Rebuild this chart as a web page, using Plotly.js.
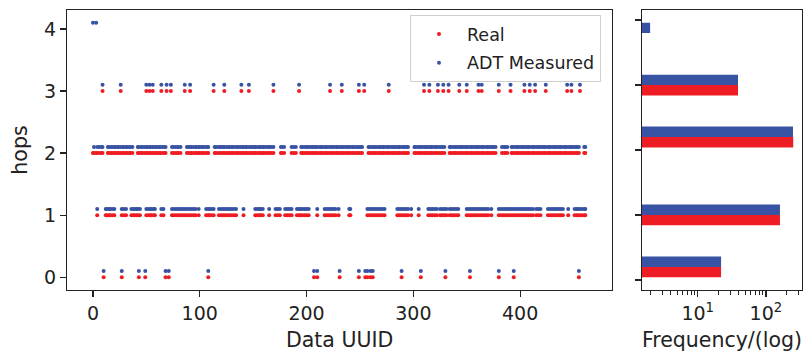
<!DOCTYPE html>
<html>
<head>
<meta charset="utf-8">
<script src="https://cdn.plot.ly/plotly-3.0.1.min.js"></script>
<style>html,body{margin:0;padding:0;background:#fff;}#chart{width:806px;height:360px;}</style>
</head>
<body>
<div id="chart"></div>
<script>
// ---- data ----
const seriesNames = ["Real", "ADT Measured"];
const hopLevels = [0, 1, 2, 3, 4];
const hop0X = [10, 27, 43, 49, 68, 71, 108, 207, 210, 231, 249, 255, 257, 260, 262, 289, 307, 330, 353, 380, 394, 455];
const hop1X = [4, 12, 13, 15, 16, 18, 20, 27, 29, 31, 36, 38, 39, 41, 42, 44, 50, 52, 54, 55, 57, 58, 64, 66,
  74, 76, 78, 80, 82, 84, 86, 88, 90, 92, 94, 96, 99, 106, 108, 109, 111, 113,
  118, 120, 122, 124, 126, 128, 130, 132, 134, 141, 152, 154, 156, 157, 159, 165, 171, 173, 175,
  180, 182, 184, 186, 191, 193, 194, 196, 198, 200, 202, 210, 217, 219, 221, 223, 225, 227, 230, 240, 241,
  257, 259, 261, 263, 265, 267, 269, 271, 273, 285, 287, 289, 291, 293, 295, 298, 305,
  314, 316, 318, 320, 322, 325, 327, 329, 331, 334, 336, 338, 340, 342,
  350, 352, 354, 356, 358, 360, 362, 364, 366, 368, 370, 373,
  380, 382, 384, 386, 388, 390, 392, 394, 396, 398, 400, 402, 404, 406, 408, 410, 412, 415, 417, 419,
  426, 428, 430, 432, 434, 436, 438, 440, 445, 451, 453, 454, 456, 458, 460, 461];
const hop2X = [0, 1, 3, 4, 6, 8, 9, 14, 15, 17, 18, 20, 21, 23, 24, 26, 28, 29, 31, 32, 34, 35, 37,
  42, 43, 45, 46, 48, 50, 51, 53, 54, 56, 57, 59, 60, 62, 63, 65, 67, 68,
  74, 75, 77, 79, 80, 82, 88, 89, 91, 92, 94, 96, 97, 99, 100, 102, 103, 105, 107, 108,
  114, 115, 117, 119, 120, 122, 123, 125, 127, 128, 130, 131, 133, 135, 136, 138, 140, 141, 143, 144, 146, 148, 149,
  151, 152, 154, 156, 157, 159, 160, 162, 164, 165, 167, 169, 176, 177, 179, 186, 188, 190,
  195, 196, 198, 200, 201, 203, 205, 206, 208, 209, 211, 213, 214, 216, 218, 219, 221, 223, 224, 226, 228, 229,
  231, 233, 234, 236, 238, 239, 241, 243, 244, 246, 248, 249, 251, 252,
  258, 259, 261, 263, 264, 266, 268, 269, 271, 272, 274, 276, 277, 279, 281, 282, 284, 286, 287, 289, 291, 292, 294, 295,
  301, 302, 304, 306, 307, 309, 311, 312, 314, 316, 317, 319, 321, 322, 324, 326, 327, 329,
  334, 335, 337, 339, 340, 342, 344, 345, 347, 349, 350, 352, 354, 355, 357, 359, 360, 362, 364, 365, 367, 369, 370, 372, 374, 375, 377,
  383, 385, 386, 388, 392, 393, 395, 397, 398, 400, 402, 403, 405, 407, 408, 410, 412, 413, 415, 417, 418, 420,
  422, 423, 425, 427, 428, 430, 432, 433, 435, 437, 438, 440, 442, 443, 445, 447, 448, 450, 452, 453, 455, 460, 461];
const hop3X = [9, 26, 50, 53, 56, 64, 69, 73, 86, 91, 113, 123, 139, 146, 169, 193, 222, 233, 249, 254, 277,
  310, 315, 323, 328, 333, 343, 350, 361, 364, 380, 391, 404, 409, 414, 424, 444, 448, 456];
// UUIDs whose ADT-measured hop count was 4 (real value 2)
const adtHop4X = [0, 3];

// ---- build series ----
function build(lists) {
  const x = [], y = [];
  lists.forEach(([xs, h]) => xs.forEach(v => { x.push(v); y.push(h); }));
  return {x, y};
}
const real = build([[hop0X, 0], [hop1X, 1], [hop2X, 2], [hop3X, 3]]);
const adt = build([[hop0X, 0], [hop1X, 1], [hop2X.filter(v => !adtHop4X.includes(v)), 2], [hop3X, 3], [adtHop4X, 4]]);

const RED = '#ee1d23', BLUE = '#3853a4';
const OFFSET = 0.1; // visual offset of ADT points

// histogram (10 bins over the combined range)
const allV = real.y.concat(adt.y);
const lo = Math.min(...allV), hi = Math.max(...allV), nb = 10, bw = (hi - lo) / nb;
function hist(vals) {
  const c = new Array(nb).fill(0);
  vals.forEach(v => { c[Math.min(nb - 1, Math.floor((v - lo) / bw + 1e-9))]++; });
  const ys = [], xs = [];
  c.forEach((n, i) => { if (n > 0) { ys.push(lo + (i + 0.5) * bw); xs.push(n); } });
  return {ys, xs};
}
const hReal = hist(real.y), hAdt = hist(adt.y);
const barW = bw * 0.8 / 2;

const traces = [
  {type: 'scatter', mode: 'markers', name: seriesNames[0], x: real.x, y: real.y,
   marker: {color: RED, size: 4}, xaxis: 'x', yaxis: 'y', legendgroup: 'a'},
  {type: 'scatter', mode: 'markers', name: seriesNames[1], x: adt.x, y: adt.y.map(v => v + OFFSET),
   marker: {color: BLUE, size: 4}, xaxis: 'x', yaxis: 'y', legendgroup: 'b'},
  {type: 'bar', orientation: 'h', x: hReal.xs, y: hReal.ys, width: barW, offset: -barW,
   marker: {color: RED}, xaxis: 'x2', yaxis: 'y2', showlegend: false},
  {type: 'bar', orientation: 'h', x: hAdt.xs, y: hAdt.ys, width: barW, offset: 0,
   marker: {color: BLUE}, xaxis: 'x2', yaxis: 'y2', showlegend: false}
];

const FONT = 'DejaVu Sans, sans-serif';
const TFS = 20.5;
const W = 806, H = 360;
const ax = {showline: true, mirror: true, linecolor: '#222', linewidth: 1.3, ticks: 'outside',
  ticklen: 6, tickwidth: 1.3, tickcolor: '#222', showgrid: false, zeroline: false, automargin: false,
  tickfont: {family: FONT, size: 19, color: '#222'}};

const layout = {
  width: W, height: H, margin: {l: 0, r: 0, t: 0, b: 0}, paper_bgcolor: '#fff', plot_bgcolor: '#fff',
  font: {family: FONT, color: '#222'}, barmode: 'overlay', showlegend: true,
  xaxis: Object.assign({}, ax, {domain: [67.3 / W, 612 / W], range: [-24, 486],
    tickvals: [0, 100, 200, 300, 400], anchor: 'y',
    title: {text: 'Data UUID', font: {family: FONT, size: TFS, color: '#222'}, standoff: 9}}),
  yaxis: Object.assign({}, ax, {domain: [70 / H, 350 / H], range: [-0.205, 4.305],
    tickvals: hopLevels, anchor: 'x',
    title: {text: 'hops', font: {family: FONT, size: TFS, color: '#222'}, standoff: 11}}),
  xaxis2: Object.assign({}, ax, {domain: [642 / W, 802 / W], type: 'log', range: [Math.log10(1.52), Math.log10(339)],
    tickvals: [10, 100], ticktext: ['10<sup>1</sup>', '10<sup>2</sup>'], anchor: 'y2',
    minor: {ticks: 'outside', ticklen: 3.5, tickwidth: 1, tickcolor: '#222',
      tickmode: 'array', tickvals: [2, 3, 4, 5, 6, 7, 8, 9, 20, 30, 40, 50, 60, 70, 80, 90, 200, 300]},
    title: {text: 'Frequency/(log)', font: {family: FONT, size: TFS, color: '#222'}, standoff: 9}}),
  yaxis2: Object.assign({}, ax, {domain: [70 / H, 350 / H], range: [-0.156, 4.156],
    tickvals: hopLevels, showticklabels: false, anchor: 'x2'}),
  legend: {x: 410 / W, y: 1 - 15 / H, xanchor: 'left', yanchor: 'top', bgcolor: 'rgba(255,255,255,0.85)',
    bordercolor: '#d0d0d0', borderwidth: 1, font: {family: FONT, size: 17.5, color: '#222'},
    itemwidth: 46, tracegroupgap: 3}
};

Plotly.newPlot('chart', traces, layout, {displayModeBar: false, staticPlot: true});
</script>
</body>
</html>
